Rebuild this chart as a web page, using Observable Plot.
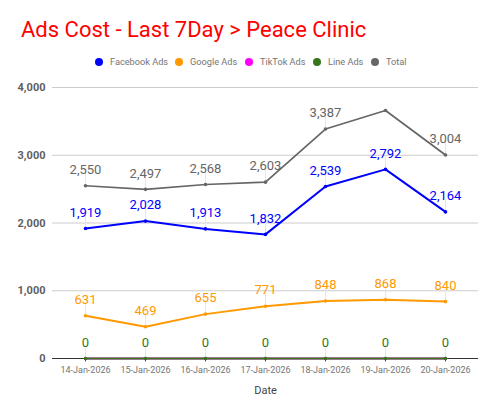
<!DOCTYPE html>
<html><head><meta charset="utf-8">
<script src="https://cdn.jsdelivr.net/npm/d3@7"></script>
<script src="https://cdn.jsdelivr.net/npm/@observablehq/plot@0.6"></script>
<style>
body{margin:0;background:#fff;font-family:Roboto,"Noto Sans",sans-serif;}
#wrap{position:relative;width:500px;height:415px;overflow:hidden;}
#title{position:absolute;left:21px;top:17px;font-size:22px;color:#ff0000;white-space:nowrap;}
#legend{position:absolute;left:0;width:500px;top:56px;height:12px;font-size:9.2px;color:#757575;}
#legend span.it{position:absolute;top:0;display:flex;align-items:center;gap:7px;white-space:nowrap;}
#legend i{display:inline-block;width:8px;height:8px;border-radius:50%;}
#chart{position:absolute;left:0;top:70px;}
</style></head>
<body><div id="wrap"><div id="title">Ads Cost - Last 7Day &gt; Peace Clinic</div><div id="legend"></div><div id="chart"></div></div>
<script>
const dates = ["14-Jan-2026","15-Jan-2026","16-Jan-2026","17-Jan-2026","18-Jan-2026","19-Jan-2026","20-Jan-2026"];
const facebook = [1919,2028,1913,1832,2539,2792,2164];
const google = [631,469,655,771,848,868,840];
const tiktok = [0,0,0,0,0,0,0];
const lineAds = [0,0,0,0,0,0,0];
const total = [2550,2497,2568,2603,3387,3660,3004];
const seriesNames = ["Facebook Ads","Google Ads","TikTok Ads","Line Ads","Total"];
const seriesColors = ["#0000ff","#ff9900","#ff00ff","#38761d","#666666"];
const yTicks = [0,1000,2000,3000,4000];
// labels hidden in the reference (Total on 19-Jan)
const hiddenLabels = [["Total","19-Jan-2026"]];

const seriesVals = [facebook, google, tiktok, lineAds, total];
const rows = [];
seriesNames.forEach((s,i)=>dates.forEach((d,j)=>rows.push({series:s,date:d,value:seriesVals[i][j]})));
const shown = rows.filter(r=>!hiddenLabels.some(h=>h[0]===r.series&&h[1]===r.date));
const labelRows = shown.filter(r=>r.series!=="TikTok Ads");

// legend item left positions (layout)
const legendX = [95, 175, 245, 313, 371];
const lg = document.getElementById("legend");
seriesNames.forEach((s,i)=>{const e=document.createElement("span");e.className="it";e.style.left=legendX[i]+"px";e.innerHTML=`<i style="background:${seriesColors[i]}"></i>${s}`;lg.appendChild(e);});

const chart = Plot.plot({
  width:500, height:340,
  marginLeft:52, marginRight:22, marginTop:17, marginBottom:52,
  style:{fontFamily:"Roboto, sans-serif", background:"#fff"},
  x:{type:"point", domain:dates, padding:0.5, label:null},
  y:{type:"linear", domain:[0,4000], ticks:yTicks, label:null},
  color:{type:"ordinal", domain:seriesNames, range:seriesColors},
  marks:[
    Plot.gridY(yTicks.filter(v=>v>0),{stroke:"#cccccc",strokeOpacity:1}),
    Plot.ruleX(labelRows,{x:"date",y1:"value",y2:d=>d.value+190,stroke:"#e6e6e6",strokeWidth:1}),
    Plot.ruleY([0],{stroke:"#333333",strokeWidth:1}),
    Plot.ruleX(dates,{x:d=>d,y1:0,y2:-50,stroke:"#333",strokeWidth:1}),
    Plot.axisY({ticks:yTicks,tickSize:0,tickPadding:7,tickFormat:d3.format(","),fontSize:11,fontWeight:"bold",fill:"#5f5f5f"}),
    Plot.axisX({tickSize:0,tickPadding:8,fontSize:9,fill:"#757575"}),
    Plot.text(["Date"],{frameAnchor:"bottom",dy:35,fontSize:11,fill:"#444"}),
    Plot.line(rows,{x:"date",y:"value",z:"series",stroke:"series",strokeWidth:d=>d.series==="Total"?1.7:2}),
    Plot.dot(rows,{x:"date",y:"value",r:1.8,fill:"series"}),
    Plot.text(labelRows,{x:"date",y:"value",text:d=>d3.format(",")(d.value),dy:-16,fontSize:13,fill:"series"})
  ]
});
document.getElementById("chart").appendChild(chart);
</script></body></html>
